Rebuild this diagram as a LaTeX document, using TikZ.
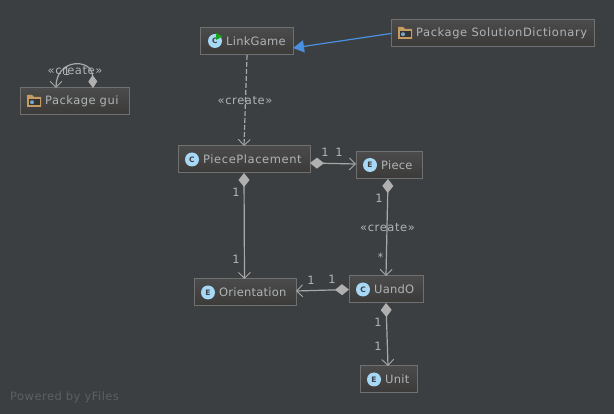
\documentclass[tikz,border=0pt]{standalone}
\usepackage{fontspec}
\setmainfont{DejaVu Sans}
\newfontfamily\namefont[LetterSpace=2]{DejaVu Sans}
\newfontfamily\midfont[LetterSpace=4]{DejaVu Sans}
\newfontfamily\widefont[LetterSpace=5]{DejaVu Sans}
\usetikzlibrary{arrows.meta,calc}
\definecolor{bgc}{HTML}{3C3F41}
\definecolor{boxtop}{HTML}{4B4B4B}
\definecolor{boxbot}{HTML}{3B3A39}
\definecolor{boxline}{HTML}{6F7070}
\definecolor{txtc}{HTML}{B0B4B6}
\definecolor{linec}{HTML}{A8A8A8}
\definecolor{tipc}{HTML}{B0B0B0}
\definecolor{bluec}{HTML}{4A90E2}
\definecolor{iconc}{HTML}{A7D8F6}
\definecolor{folderc}{HTML}{C49B63}
\definecolor{dotc}{HTML}{6FA8CF}
\definecolor{wmc}{HTML}{5C6062}
\tikzset{
  umlbox/.style={draw=boxline,line width=1pt,top color=boxtop,bottom color=boxbot,shading angle=0,anchor=north west,minimum height=27pt,inner sep=0pt,outer sep=0pt},
  nametext/.style={text=txtc,font=\namefont\fontsize{11.5}{13}\selectfont,anchor=west,inner sep=0pt},
  widetext/.style={nametext,font=\widefont\fontsize{11.5}{13}\selectfont},
  midtext/.style={nametext,font=\midfont\fontsize{11.5}{13}\selectfont},
  edgetext/.style={text=txtc,font=\widefont\fontsize{11.5}{13}\selectfont,inner sep=0pt},
  ball/.style={circle,fill=iconc,minimum size=14pt,inner sep=0pt,text=bgc,font=\bfseries\fontsize{7.5}{8}\selectfont},
  rel/.style={draw=linec,line width=1.2pt},
  owned/.style={rel,{Diamond[length=14pt,width=11pt,fill=tipc,color=tipc]}-{Straight Barb[length=6pt,width=12pt,color=linec,line width=.9pt]}},
  usedash/.style={rel,dashed,dash pattern=on 5pt off 2pt,-{Straight Barb[length=6pt,width=12pt,color=linec,line width=.9pt]}},
  inherit/.style={draw=bluec,line width=1.2pt,-{Triangle[length=11pt,width=12pt,fill=bluec,color=bluec]}}
}
\newcommand{\folder}[2]{%
  \fill[folderc] (#1,#2+2) -- (#1,#2-3) -- (#1+5,#2-3) -- (#1+7,#2-1) -- (#1+14,#2-1) -- (#1+14,#2+9) -- (#1,#2+9) -- cycle;
  \fill[boxbot!90!black] (#1+1.5,#2+1) rectangle (#1+12.5,#2+7.5);
  \fill[dotc] (#1+5,#2+4.2) circle (2pt);}
\begin{document}
\begin{tikzpicture}[x=1pt,y=-1pt]
\useasboundingbox (0,0) rectangle (614,414);
\fill[bgc] (0,0) rectangle (614,414);
% boxes
\node[umlbox,minimum width=109pt] (gui) at (20,88) {};
\node[umlbox,minimum width=93pt] (link) at (200,28) {};
\node[umlbox,minimum width=203pt] (sol) at (391,20) {};
\node[umlbox,minimum width=132pt] (place) at (178,146) {};
\node[umlbox,minimum width=66pt] (piece) at (356,152) {};
\node[umlbox,minimum width=102pt] (orient) at (194,279) {};
\node[umlbox,minimum width=74pt] (uando) at (349,276) {};
\node[umlbox,minimum width=57pt] (unit) at (360,366) {};
% names
\node[midtext] (guit) at (45,101.5) {Package gui};
\node[nametext] (linkt) at (226,41.5) {LinkGame};
\node[widetext] (solt) at (416,33.5) {Package SolutionDictionary};
\node[widetext] (placet) at (203,159.5) {PiecePlacement};
\node[nametext] (piecet) at (381,165.5) {Piece};
\node[nametext] (orientt) at (219,292.5) {Orientation};
\node[nametext] (uandot) at (374,289.5) {UandO};
\node[nametext] (unitt) at (385,379.5) {Unit};
% icons
\node[ball] (linki) at (215,41) {C};
\fill[green!60!black!90!white] (216,33) -- (222.5,36.5) -- (216,40) -- cycle;
\node[ball] (placei) at (192,159.5) {C};
\node[ball] (piecei) at (370,165) {E};
\node[ball] (orienti) at (208,292.5) {E};
\node[ball] (uandoi) at (363,289.5) {C};
\node[ball] (uniti) at (374,379.5) {E};
\folder{27}{98}
\folder{398}{30}
% connectors
\draw[usedash] ([xshift=0.5pt]link.south) -- (place.south |- place.north);
\draw[inherit] (sol.west) -- ([yshift=-6.5pt]link.east);
\draw[owned] ([yshift=-3.5pt]place.east) -- ([yshift=1.5pt]piece.west);
\draw[owned] (place.south) -- ([xshift=-0.5pt]orient.north);
\draw[owned] ([xshift=-1pt]piece.south) -- (uando.north);
\draw[owned] (uando.west) -- ([yshift=1.5pt]orient.east);
\draw[owned] (uando.south) -- ([xshift=-0.5pt]unit.north);
\coordinate (guiown) at ([xshift=18.5pt]gui.north);
\coordinate (guiin) at ([xshift=-18.5pt]gui.north);
\draw[rel,{Diamond[length=13pt,width=9pt,fill=tipc,color=tipc]}-{Straight Barb[length=6pt,width=12pt,color=linec,line width=.9pt]}] (guiown) .. controls (92,58) and (56,58) .. (guiin);
% labels
\node[edgetext] (g1) at (75,71) {«create»};
\node[edgetext] (g2) at (66.5,71) {1};
\node[edgetext] (c1) at (245,100.5) {«create»};
\node[edgetext] (c2) at (387.5,228) {«create»};
\node[edgetext] (n1) at (325,152) {1};
\node[edgetext] (n2) at (339,152.5) {1};
\node[edgetext] (n3) at (236,192.5) {1};
\node[edgetext] (n4) at (236,259.5) {1};
\node[edgetext] (n5) at (379,198.5) {1};
\node[edgetext] (n6) at (380.5,257) {*};
\node[edgetext] (n7) at (311,280.5) {1};
\node[edgetext] (n8) at (332,279.5) {1};
\node[edgetext] (n9) at (378,322.5) {1};
\node[edgetext] (n10) at (378,346.5) {1};
\node[text=wmc,font=\midfont\fontsize{11.5}{13}\selectfont,anchor=west,inner sep=0pt] (wm) at (10,397.5) {Powered by yFiles};
\end{tikzpicture}
\end{document}
